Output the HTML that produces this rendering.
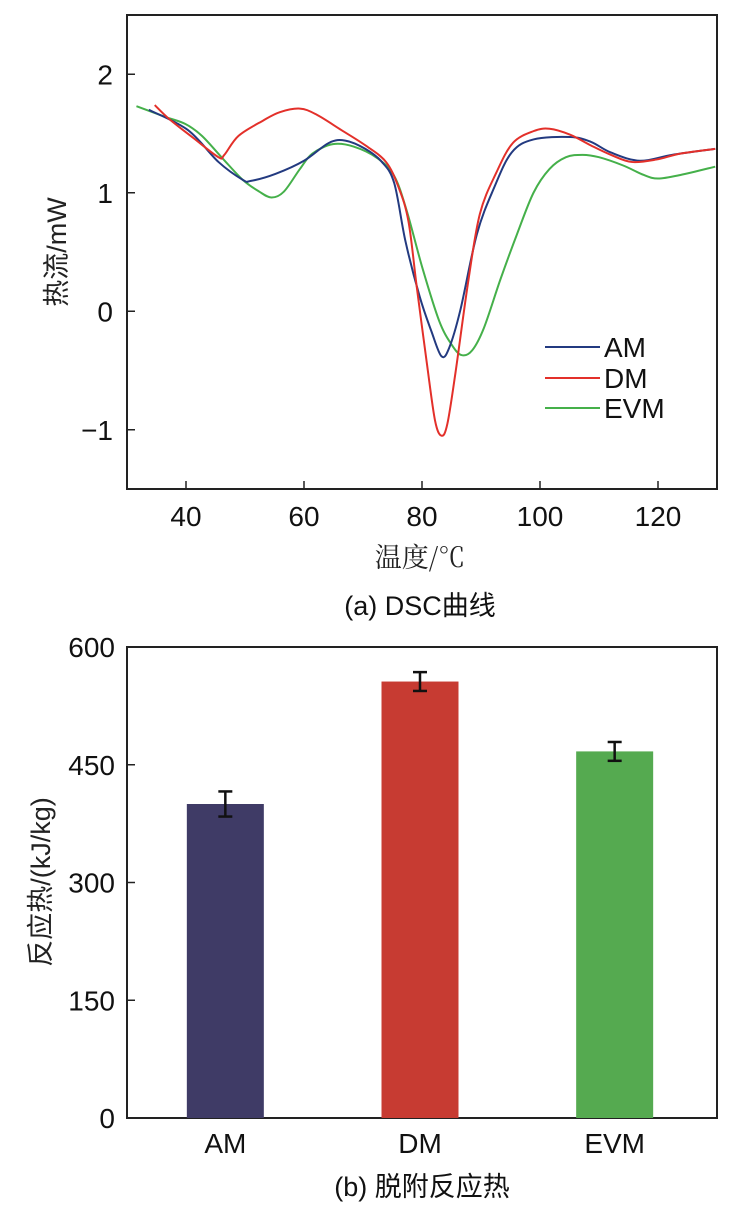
<!DOCTYPE html>
<html><head><meta charset="utf-8">
<style>
body{margin:0;background:#fff;}
svg{display:block;font-family:"Liberation Sans","Noto Sans CJK SC",sans-serif;}
</style></head>
<body>
<svg id="c" width="740" height="1208" viewBox="0 0 740 1208" xmlns="http://www.w3.org/2000/svg"></svg>
<script>
// ---- DSC data ----
const amX=[33.7,40.3,45.5,49.6,51,55.2,60,64.2,67,70.4,73.2,75.3,77.2,79.6,81.6,83.3,84.6,86.5,89.3,92.2,95.2,98.9,105.1,108.6,112,116.9,122.4,129.7];
const amY=[1.70,1.53,1.26,1.11,1.10,1.16,1.27,1.42,1.44,1.37,1.26,1.08,0.59,0.125,-0.17,-0.38,-0.31,0.01,0.65,1.04,1.34,1.45,1.47,1.43,1.34,1.27,1.32,1.37];
const dmX=[34.7,37.2,41.3,45.5,46.5,48.9,53.1,55.9,59.3,62.1,66.3,70.4,73.9,76,77.7,79.1,80.8,82.2,83.3,84.3,85.7,87.8,89.8,92.6,95.4,98.9,101.6,105.1,108.6,112,115.5,119.7,123.8,129.7];
const dmY=[1.74,1.62,1.46,1.30,1.32,1.48,1.61,1.68,1.71,1.66,1.53,1.40,1.26,1.05,0.76,0.21,-0.43,-0.92,-1.05,-0.95,-0.51,0.24,0.82,1.17,1.42,1.52,1.54,1.49,1.40,1.32,1.26,1.28,1.33,1.37];
const evmX=[31.6,36.5,39.9,42.7,46.2,49.6,52.4,54.5,56.6,59.3,61.4,64.9,68.4,72.5,75.3,77.4,80.1,82.9,85,86.7,88.5,90.5,93.3,96.1,98.9,101.6,104.4,107.2,110,114.1,117.6,120,123.8,129.7];
const evmY=[1.73,1.64,1.58,1.48,1.29,1.11,1.01,0.96,1.01,1.20,1.33,1.41,1.39,1.29,1.14,0.85,0.36,-0.08,-0.28,-0.37,-0.33,-0.14,0.27,0.65,1.00,1.20,1.30,1.32,1.30,1.23,1.15,1.12,1.15,1.22];
const xTicks=[40,60,80,100,120];
const yTicks=[-1,0,1,2];
const yTickLabels=["\u22121","0","1","2"];
// ---- bar data ----
const cats=["AM","DM","EVM"];
const heats=[400,556,467];
const errs=[16,12,12];
const barColors=["#3f3b66","#c73b32","#55aa50"];
const bTicks=[0,150,300,450,600];

const NS="http://www.w3.org/2000/svg";
const svg=document.getElementById('c');
function mk(tag,attrs,parent,text){const e=document.createElementNS(NS,tag);for(const k in attrs)e.setAttribute(k,attrs[k]);if(text!==undefined)e.textContent=text;(parent||svg).appendChild(e);return e;}

// top axes
const L=127,R=717,T=15,B=489;
const sx=v=>L+(v-30)/100*(R-L);
const sy=v=>B-(v+1.5)/4*(B-T);
let e;
e=mk('rect',{x:L,y:T,width:R-L,height:B-T,fill:'none',stroke:'#222','stroke-width':2});

xTicks.forEach(t=>{
  e=mk('line',{x1:sx(t),x2:sx(t),y1:B,y2:B-8,stroke:'#222','stroke-width':1.5});
  
  e=mk('text',{x:sx(t),y:B+37,'text-anchor':'middle','font-size':28,fill:'#111'},null,String(t));
  
});
yTicks.forEach((t,i)=>{
  e=mk('line',{x1:L,x2:L+8,y1:sy(t),y2:sy(t),stroke:'#222','stroke-width':1.5});
  
  e=mk('text',{x:L-14,y:sy(t)+10,'text-anchor':'end','font-size':28,fill:'#111'},null,yTickLabels[i]);
  
});
function smooth(xs,ys){
  const p=xs.map((x,i)=>[sx(x),sy(ys[i])]);
  let d=`M${p[0][0]},${p[0][1]}`;
  for(let i=0;i<p.length-1;i++){
    const p0=p[Math.max(0,i-1)],p1=p[i],p2=p[i+1],p3=p[Math.min(p.length-1,i+2)];
    const c1=[p1[0]+(p2[0]-p0[0])/6,p1[1]+(p2[1]-p0[1])/6];
    const c2=[p2[0]-(p3[0]-p1[0])/6,p2[1]-(p3[1]-p1[1])/6];
    d+=` C${c1[0]},${c1[1]} ${c2[0]},${c2[1]} ${p2[0]},${p2[1]}`;
  }
  return d;
}
e=mk('path',{d:smooth(evmX,evmY),fill:'none',stroke:'#45b04a','stroke-width':2});

e=mk('path',{d:smooth(amX,amY),fill:'none',stroke:'#233a80','stroke-width':2});

e=mk('path',{d:smooth(dmX,dmY),fill:'none',stroke:'#e3302a','stroke-width':2});

const leg=[["AM","#233a80",347],["DM","#e3302a",378],["EVM","#45b04a",408]];
leg.forEach(l=>{
  e=mk('line',{x1:545,x2:600,y1:l[2],y2:l[2],stroke:l[1],'stroke-width':2});
  
  e=mk('text',{x:604,y:l[2]+10,'font-size':28,fill:'#111'},null,l[0]);
  
});
e=mk('text',{x:0,y:0,transform:'translate(66,252) rotate(-90)','text-anchor':'middle','font-size':27,fill:'#222'},null,'热流/mW');

e=mk('text',{x:420,y:567,'text-anchor':'middle','font-size':27,fill:'#222','font-family':'"Noto Serif CJK SC","Liberation Serif",serif'},null,'温度/℃');

e=mk('text',{x:420,y:615,'text-anchor':'middle','font-size':27,fill:'#111'},null,'(a) DSC曲线');


// bottom chart
const bL=127,bR=717,bT=647,bB=1118;
const by=v=>bB-v/600*(bB-bT);
const bw=77,slot=(bR-bL)/3;
const bx=i=>bL+slot*(i+0.5)-bw/2+(i-1)*(-2)-2;
e=mk('rect',{x:bL,y:bT,width:bR-bL,height:bB-bT,fill:'none',stroke:'#222','stroke-width':2});

bTicks.forEach(t=>{
  e=mk('line',{x1:bL,x2:bL+8,y1:by(t),y2:by(t),stroke:'#222','stroke-width':1.5});
  
  e=mk('text',{x:bL-12,y:by(t)+10,'text-anchor':'end','font-size':28,fill:'#111'},null,String(t));
  
});
cats.forEach((c,i)=>{
  const x=bx(i);
  e=mk('rect',{x:x,y:by(heats[i]),width:bw,height:bB-by(heats[i]),fill:barColors[i]});
  
  const cx=x+bw/2;
  const g=mk('g',{stroke:'#111','stroke-width':2.5});
  
  mk('line',{x1:cx,x2:cx,y1:by(heats[i]+errs[i]),y2:by(heats[i]-errs[i])},g);
  mk('line',{x1:cx-7,x2:cx+7,y1:by(heats[i]+errs[i]),y2:by(heats[i]+errs[i])},g);
  mk('line',{x1:cx-7,x2:cx+7,y1:by(heats[i]-errs[i]),y2:by(heats[i]-errs[i])},g);
  e=mk('text',{x:cx,y:bB+35,'text-anchor':'middle','font-size':28,fill:'#111'},null,c);
  
});
e=mk('text',{x:0,y:0,transform:'translate(50,882) rotate(-90)','text-anchor':'middle','font-size':27,fill:'#222'},null,'反应热/(kJ/kg)');

e=mk('text',{x:422,y:1196,'text-anchor':'middle','font-size':27,fill:'#111'},null,'(b) 脱附反应热');

</script>
</body></html>
